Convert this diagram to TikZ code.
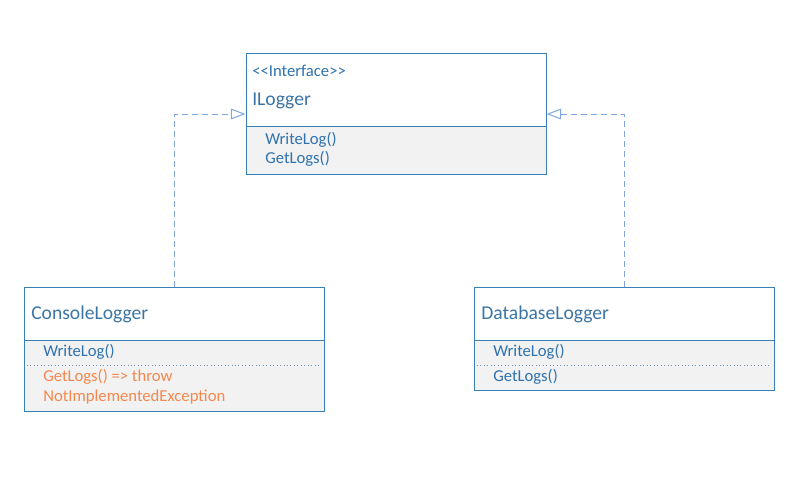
\documentclass[tikz,border=0pt]{standalone}
\usepackage{fontspec}
\setmainfont{Carlito}
\usetikzlibrary{arrows.meta,backgrounds}
\definecolor{boxline}{HTML}{3A80B8}
\definecolor{txtblue}{HTML}{2E72AE}
\definecolor{ttlblue}{HTML}{3B75A6}
\definecolor{orng}{HTML}{F5874D}
\definecolor{conn}{HTML}{7EA6E0}
\definecolor{memfill}{HTML}{F2F2F2}
\definecolor{sepdot}{HTML}{6E8FAE}
\tikzset{
  box/.style={draw=boxline, line width=0.75pt, inner sep=0pt, minimum width=225pt},
  ttl/.style={anchor=west, inner sep=0pt, text=ttlblue, font=\fontsize{14.7}{16}\selectfont},
  stereo/.style={anchor=west, inner sep=0pt, text=txtblue, font=\fontsize{12.5}{14}\selectfont},
  mem/.style={anchor=west, inner sep=0pt, text=txtblue, font=\fontsize{12.5}{14}\selectfont},
  memo/.style={mem, text=orng},
  realize/.style={draw=conn, line width=0.75pt, dash pattern=on 4.5pt off 3pt,
    -{Triangle[open, length=11pt, width=8pt, fill=white]}},
  msep/.style={draw=sepdot, line width=0.6pt, dotted},
}
\begin{document}
\begin{tikzpicture}[x=0.75pt,y=-0.75pt]
\useasboundingbox (0,0) rectangle (806,478);
% boxes
\node[box, minimum height=90pt] (ilogger) at (396,114) {};
\node[box, minimum height=93pt] (console) at (174,349) {};
\node[box, minimum height=77.25pt] (database) at (624,338.5) {};
\begin{scope}[on background layer]
  \fill[memfill] (ilogger.south west) rectangle (ilogger.east |- 0,126);
  \fill[memfill] (console.south west) rectangle (console.east |- 0,340);
  \fill[memfill] (database.south west) rectangle (database.east |- 0,340);
\end{scope}
% compartment lines
\draw[boxline, line width=0.75pt] (ilogger.west |- 0,126) -- (ilogger.east |- 0,126);
\draw[boxline, line width=0.75pt] (console.west |- 0,340) -- (console.east |- 0,340);
\draw[boxline, line width=0.75pt] (database.west |- 0,340) -- (database.east |- 0,340);
\draw[msep] (27,365) -- (321,365);
\draw[msep] (477,365) -- (771,365);
% ILogger texts
\node[stereo] (st) at (252,71) {<\kern0pt<Interface>\kern0pt>};
\node[ttl] (t1) at (252,101) {ILogger};
\node[mem] (m1) at (265,140) {WriteLog()};
\node[mem] (m2) at (265,159) {GetLogs()};
% ConsoleLogger texts
\node[ttl] (t2) at (31,314) {ConsoleLogger};
\node[mem] (m3) at (43,352) {WriteLog()};
\node[memo] (m4) at (43,377) {GetLogs() =\kern0pt> throw};
\node[memo] (m5) at (43,397) {NotImplementedException};
% DatabaseLogger texts
\node[ttl] (t3) at (481,314) {DatabaseLogger};
\node[mem] (m6) at (493,352) {WriteLog()};
\node[mem] (m7) at (493,377) {GetLogs()};
% connectors
\draw[realize] (console.north) |- (ilogger.west);
\draw[realize] (database.north) |- (ilogger.east);
\end{tikzpicture}
\end{document}
